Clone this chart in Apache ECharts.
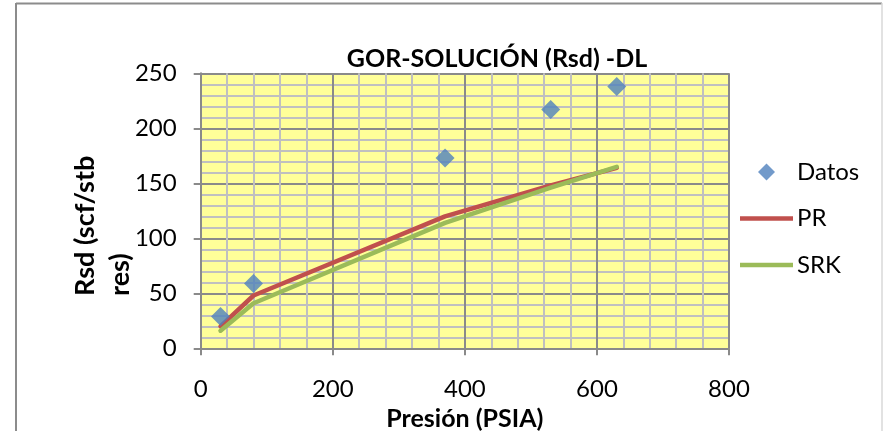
<!DOCTYPE html>
<html>
<head>
<meta charset="utf-8">
<script src="https://cdn.jsdelivr.net/npm/echarts@6/dist/echarts.min.js"></script>
<style>
  html, body { margin: 0; padding: 0; background: #ffffff; }
  #chart { width: 883px; height: 431px; }
</style>
</head>
<body>
<div id="chart"></div>
<script>
// Pressure (psia) and solution GOR values
const presion = [30, 80, 370, 530, 630];
const datos = [29, 59, 173, 217, 238];
const pr = [20, 48, 120, 148, 164];
const srk = [16, 41, 114, 146, 165];

const xTicks = [0, 200, 400, 600, 800];
const yTicks = [0, 50, 100, 150, 200, 250];

const FONT = 'Lato';

const pairs = (xs, ys) => xs.map((x, i) => [x, ys[i]]);

const chart = echarts.init(document.getElementById('chart'), null, { renderer: 'canvas' });

const gridLine = { color: '#8A8A8A', width: 2 };
const minorLine = { color: '#C0C0C0', width: 2 };

chart.setOption({
  animation: false,
  backgroundColor: '#ffffff',
  title: {
    text: 'GOR-SOLUCIÓN (Rsd) -DL',
    left: 492,
    top: 41,
    textAlign: 'center',
    textStyle: { fontFamily: FONT, fontWeight: 'bold', fontSize: 25, color: '#000' }
  },
  grid: {
    left: 200.7, right: 154, top: 73.3, bottom: 82.7,
    outerBoundsMode: 'none',
    show: true, backgroundColor: '#FFFF99', borderWidth: 0
  },
  legend: {
    orient: 'vertical',
    left: 740,
    top: 160,
    padding: 0,
    itemWidth: 53,
    itemHeight: 17,
    itemGap: 22.5,
    symbolKeepAspect: true,
    textStyle: { fontFamily: FONT, fontSize: 24, lineHeight: 24, color: '#000', padding: [0, 0, 0, -1] },
    data: [
      { name: 'Datos', icon: 'path://M0,-1L1,0L0,1L-1,0Z' },
      { name: 'PR', icon: 'path://M0,0H53V4.5H0Z' },
      { name: 'SRK', icon: 'path://M0,0H53V4.5H0Z' }
    ]
  },
  xAxis: {
    type: 'value',
    min: xTicks[0], max: xTicks[xTicks.length - 1], interval: 200,
    axisLine: { show: true, onZero: false, lineStyle: gridLine },
    axisTick: { show: true, length: 7, lineStyle: gridLine },
    axisLabel: { margin: 29, fontFamily: FONT, fontSize: 24, color: '#000' },
    splitLine: { show: true, lineStyle: gridLine },
    minorTick: { show: false, splitNumber: 5 },
    minorSplitLine: { show: true, lineStyle: minorLine },
    name: 'Presión (PSIA)',
    nameLocation: 'middle',
    nameGap: 46,
    nameTextStyle: { fontFamily: FONT, fontWeight: 'bold', fontSize: 25, color: '#000' }
  },
  yAxis: {
    type: 'value',
    min: yTicks[0], max: yTicks[yTicks.length - 1], interval: 50,
    axisLine: { show: true, onZero: false, lineStyle: gridLine },
    axisTick: { show: true, length: 7, lineStyle: gridLine },
    axisLabel: { margin: 24, fontFamily: FONT, fontSize: 24, color: '#000' },
    splitLine: { show: true, lineStyle: gridLine },
    minorTick: { show: false, splitNumber: 5 },
    minorSplitLine: { show: true, lineStyle: minorLine }
  },
  graphic: [
    // outer frame of the chart area
    { type: 'line', shape: { x1: 16, y1: 3.5, x2: 882, y2: 3.5 }, style: { stroke: '#8C8C8C', lineWidth: 2 }, silent: true },
    { type: 'line', shape: { x1: 16, y1: 3, x2: 16, y2: 431 }, style: { stroke: '#8C8C8C', lineWidth: 2 }, silent: true },
    { type: 'line', shape: { x1: 882, y1: 3, x2: 882, y2: 431 }, style: { stroke: '#D9D9D9', lineWidth: 1.5 }, silent: true },
    // y axis title, two lines, rotated
    {
      type: 'text', x: 85, y: 296, rotation: Math.PI / 2,
      style: { text: 'Rsd (scf/stb', fontFamily: FONT, fontWeight: 'bold', fontSize: 27, fill: '#000', textAlign: 'left', textVerticalAlign: 'middle' }
    },
    {
      type: 'text', x: 120, y: 296, rotation: Math.PI / 2,
      style: { text: 'res)', fontFamily: FONT, fontWeight: 'bold', fontSize: 27, fill: '#000', textAlign: 'left', textVerticalAlign: 'middle' }
    }
  ],
  series: [
    {
      name: 'PR', type: 'line', data: pairs(presion, pr),
      symbol: 'none', z: 3,
      lineStyle: { color: '#C0504D', width: 4.5, cap: 'round', join: 'round' },
      itemStyle: { color: '#C0504D' }
    },
    {
      name: 'SRK', type: 'line', data: pairs(presion, srk),
      symbol: 'none', z: 4,
      lineStyle: { color: '#9BBB59', width: 4.5, cap: 'round', join: 'round' },
      itemStyle: { color: '#9BBB59' }
    },
    {
      name: 'Datos', type: 'scatter', data: pairs(presion, datos),
      symbol: 'diamond', symbolSize: 19, z: 5,
      itemStyle: { color: '#4F81BD' }
    }
  ]
});
</script>
</body>
</html>
